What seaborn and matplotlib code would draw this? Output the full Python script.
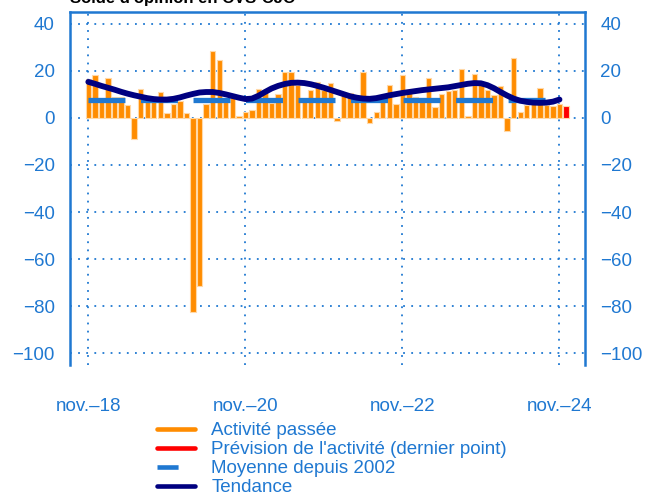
"""
Solde d'opinion (CVS-CJO): activité passée, prévision, moyenne et tendance.
"""

import numpy as np
import pandas as pd
import matplotlib
matplotlib.use("Agg")
import matplotlib.pyplot as plt
from matplotlib.lines import Line2D
import seaborn as sns

TITLE = "Solde d'opinion en CVS-CJO"

# months since nov. 2018 (0 = nov.-18, 73 = déc.-24)
past_activity = [
    16.7, 18.2, 8.0, 17.0, 9.0, 9.0, 5.4, -9.0, 12.2, 8.0,
    7.2, 11.2, 2.0, 5.9, 7.3, 2.0, -82.5, -71.5, 5.9, 28.4,
    24.6, 6.6, 10.0, 1.0, 2.3, 3.2, 12.2, 11.6, 6.4, 10.0,
    19.4, 19.7, 14.0, 8.0, 12.0, 15.4, 12.0, 15.0, -1.4, 10.0,
    10.5, 9.0, 19.4, -2.0, 2.6, 8.0, 14.0, 5.7, 18.2, 11.7,
    9.0, 8.5, 16.8, 4.5, 10.2, 11.5, 11.8, 20.9, 0.9, 18.6,
    14.0, 12.0, 9.6, 13.4, -5.6, 25.3, 2.3, 5.6, 6.2, 12.8,
    5.6, 5.0, 6.0,
]
forecast_last = 5.2

trend = [
    15.3, 14.5, 13.6, 12.8, 12.0, 11.1, 10.3, 9.6, 9.0, 8.4,
    8.0, 7.8, 7.8, 8.1, 8.7, 9.5, 10.2, 10.8, 11.0, 11.0,
    10.6, 10.0, 9.3, 8.6, 8.0, 8.2, 9.4, 11.0, 12.5, 13.6,
    14.4, 14.9, 15.0, 14.8, 14.3, 13.6, 12.8, 11.9, 11.0, 10.1,
    9.2, 8.6, 8.2, 8.1, 8.4, 9.0, 9.6, 10.1, 10.6, 11.0,
    11.4, 11.8, 12.1, 12.4, 12.7, 13.0, 13.5, 14.0, 14.5, 14.8,
    14.7, 13.9, 12.6, 11.0, 9.5, 8.2, 7.3, 6.8, 6.5, 6.4,
    6.5, 6.9, 7.8,
]
mean_since_2002 = 7.7

tick_months = [0, 24, 48, 72]
tick_labels = ["nov.\u201318", "nov.\u201320", "nov.\u201322", "nov.\u201324"]
y_ticks = [40, 20, 0, -20, -40, -60, -80, -100]

ORANGE = "#ff8c00"
RED = "#ff0000"
MID_BLUE = "#1f78d1"
NAVY = "#000080"
TXT = "#1f78d1"
FS = 13.5

sns.set_style("white")
plt.rcParams["font.family"] = ["Liberation Sans", "DejaVu Sans"]

values = past_activity + [forecast_last]
df = pd.DataFrame({
    "mois": np.arange(len(values)),
    "solde": values,
    "serie": ["passe"] * len(past_activity) + ["prevision"],
})

fig = plt.figure(figsize=(6.46, 4.92), dpi=100)
ax = fig.add_axes([70 / 646, 1 - 365 / 492, 515 / 646, 353 / 492])

sns.barplot(data=df, x="mois", y="solde", hue="serie", native_scale=True,
            palette={"passe": ORANGE, "prevision": RED}, dodge=False,
            saturation=1, width=0.82, edgecolor="#ffd9a8", linewidth=0.8,
            legend=False, ax=ax)

months = np.arange(len(trend))
ax.plot(months, [mean_since_2002] * len(months), color=MID_BLUE, lw=3.8,
        dashes=(7.0, 2.95), solid_capstyle="butt", dash_capstyle="butt", zorder=3)
sns.lineplot(x=months, y=trend, color=NAVY, lw=4.2, ax=ax, zorder=4)

ax.set_xlim(-2.8, 75.9)
ax.set_ylim(-105, 45)
ax.set_xticks(tick_months)
ax.set_xticklabels(tick_labels)
ax.set_yticks(y_ticks)
ax.set_xlabel("")
ax.set_ylabel("")
ax.grid(True, color=MID_BLUE, linestyle=(0, (1, 3.5)), lw=1.3)
ax.set_axisbelow(True)
ax.tick_params(axis="both", length=0, labelsize=FS, labelcolor=TXT)
ax.tick_params(axis="y", pad=11, labelright=True, right=False)
ax.tick_params(axis="x", pad=24)

for side in ["left", "right", "top"]:
    ax.spines[side].set_color(MID_BLUE)
    ax.spines[side].set_linewidth(1.8)
ax.spines["bottom"].set_visible(False)

fig.text(70 / 646, 1.004, TITLE, fontsize=12, fontweight="bold",
         color="black", ha="left", va="center")

handles = [
    Line2D([], [], color=ORANGE, lw=3.3),
    Line2D([], [], color=RED, lw=3.3),
    Line2D([], [], color=MID_BLUE, lw=3.3, dashes=(4.6, 10)),
    Line2D([], [], color=NAVY, lw=3.3),
]
labels = [
    "Activité passée",
    "Prévision de l'activité (dernier point)",
    "Moyenne depuis 2002",
    "Tendance",
]
fig.legend(handles, labels, loc="upper left", bbox_to_anchor=(157 / 646, 1 - 422 / 492),
           frameon=False, fontsize=FS, labelcolor=TXT, handlelength=2.0,
           handletextpad=0.9, labelspacing=0.1, borderpad=0, borderaxespad=0)

fig.savefig("out.png", dpi=100)
